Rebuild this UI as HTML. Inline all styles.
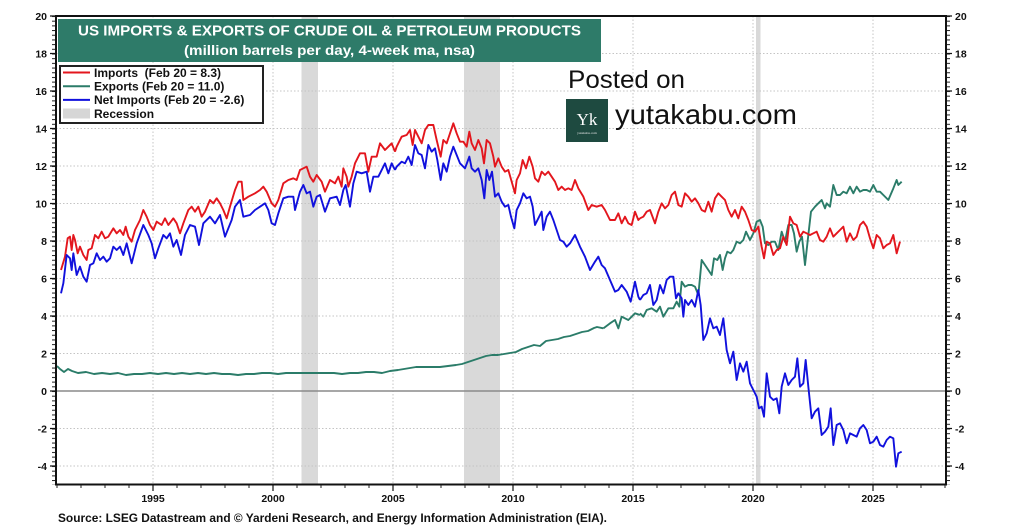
<!DOCTYPE html>
<html><head><meta charset="utf-8"><style>
html,body{margin:0;padding:0;background:#fff;}
svg{display:block;font-family:"Liberation Sans",Arial,sans-serif;}
</style></head><body>
<svg width="1024" height="527" viewBox="0 0 1024 527" xmlns="http://www.w3.org/2000/svg">
<defs>
<pattern id="ytick" x="0" y="16" width="10" height="4.6875" patternUnits="userSpaceOnUse"><rect x="0" y="0" width="10" height="1" fill="#222"/></pattern>
<pattern id="xtick" x="8.5" y="0" width="24" height="10" patternUnits="userSpaceOnUse"><rect x="0" y="0" width="1" height="10" fill="#222"/></pattern>
</defs>
<rect width="1024" height="527" fill="#fff"/>
<!-- recession bands -->
<g fill="#d9d9d9">
<rect x="301.5" y="16" width="16.5" height="469"/>
<rect x="464" y="16" width="36" height="469"/>
<rect x="756" y="16" width="4.5" height="469"/>
</g>
<!-- gridlines -->
<g stroke="#c4c4c4" stroke-width="1" stroke-dasharray="1.5,2" fill="none">
<line x1="56" y1="53.5" x2="946" y2="53.5"/>
<line x1="56" y1="91" x2="946" y2="91"/>
<line x1="56" y1="128.5" x2="946" y2="128.5"/>
<line x1="56" y1="166" x2="946" y2="166"/>
<line x1="56" y1="203.5" x2="946" y2="203.5"/>
<line x1="56" y1="241" x2="946" y2="241"/>
<line x1="56" y1="278.5" x2="946" y2="278.5"/>
<line x1="56" y1="316" x2="946" y2="316"/>
<line x1="56" y1="353.5" x2="946" y2="353.5"/>
<line x1="56" y1="428.5" x2="946" y2="428.5"/>
<line x1="56" y1="466" x2="946" y2="466"/>
<line x1="153" y1="16" x2="153" y2="484"/>
<line x1="273" y1="16" x2="273" y2="484"/>
<line x1="393" y1="16" x2="393" y2="484"/>
<line x1="513" y1="16" x2="513" y2="484"/>
<line x1="633" y1="16" x2="633" y2="484"/>
<line x1="753" y1="16" x2="753" y2="484"/>
<line x1="873" y1="16" x2="873" y2="484"/>
</g>
<line x1="56" y1="391" x2="946" y2="391" stroke="#8a8a8a" stroke-width="1.5"/>

<!-- series: exports (green) -->
<g fill="none" stroke="#2b7c69" stroke-width="1.9" stroke-linejoin="round">
<polyline points="57,366 60,369 64,372 68,369 72,371 78,373 86,372 94,374 102,373 110,374 118,373 126,375 134,374 142,374 150,373 158,374 166,373 174,374 182,373 190,374 198,373 206,374 214,373 222,374 230,374 238,375 246,374 254,374 262,373 270,373 278,374 286,373 294,373 302,373 310,373 318,373 326,373 334,373 342,374 350,373 358,373 366,372 374,372 382,373 390,371 398,370 404,369 410,368 416,367 424,367 432,367 440,367 448,366 456,365 462,364 468,362 474,360 480,358 486,356 492,355 498,355 504,354 510,353 516,352 522,349 528,347 534,345 540,346 546,341 552,340 558,339 564,337 570,336 576,334 582,332 588,331 594,328 597,327 603.3,328.3"/>
<g transform="translate(380,110) scale(0.33333)"><polyline vector-effect="non-scaling-stroke" points="670,655 690,640 705,630 715,655 725,620 745,630 765,610 780,615"/></g>
<g transform="translate(640,170) scale(0.33333)"><polyline vector-effect="non-scaling-stroke" points="0,430 10,440 20,420 35,415 50,425 60,410 70,440 85,415 100,415 110,395 118,410 125,335 135,350 145,345 155,345 165,350 175,375 185,270 195,285 205,300 215,315 222,265 232,270 240,255 248,300 255,265 262,245 272,250 280,240 290,215 300,220 310,210 318,185 330,210 340,190 350,155 360,150 368,170 375,220 385,225 395,215 405,215 415,240 425,185 435,215 445,165 455,165 462,190 470,245 478,215 486,200 495,285 505,195 513,125 525,110 535,100 545,90 555,115 560,100 570,110 580,45 590,75 600,75 610,65 620,70 630,50 640,70 650,50 660,65 670,60 680,60 690,65 700,45 710,65 720,65 730,75 745,90 760,55 770,30 775,45 785,35"/></g>
</g>

<!-- series: imports (red) -->
<g fill="none" stroke="#e3161d" stroke-width="1.9" stroke-linejoin="round">
<g transform="translate(55,110) scale(0.33333)"><polyline vector-effect="non-scaling-stroke" points="18,480 30,440 38,385 45,380 50,420 55,375 60,390 68,430 75,410 85,435 95,450 100,420 110,415 120,375 130,385 140,365 150,385 160,380 175,355 185,370 195,360 205,375 212,350 220,380 230,395 240,360 255,330 265,300 275,320 285,345 295,360 305,335 320,345 330,325 340,345 355,325 365,340 375,370 385,340 400,300 410,290 420,305 430,290 440,320 450,305 465,270 475,280 485,265 495,280 505,300 515,325 525,290 540,240 550,215 560,215 565,270 580,260 600,250 615,240 625,230 635,245 650,280 660,290 670,270 685,220 700,210 715,205 725,210 735,180 745,175 755,170 765,200 775,215 785,195 800,215 810,245 825,210 840,220 850,200 860,230 865,175 875,200 880,230 890,200 900,160 915,130 930,130 940,185 950,140 965,140 975,100 990,120 1000,110 1010,100 1020,125"/></g>
<g transform="translate(380,110) scale(0.33333)"><polyline vector-effect="non-scaling-stroke" points="45,125 50,110 65,80 80,75 90,60 98,105 105,60 115,80 125,100 135,60 145,45 160,45 170,90 182,140 190,90 200,100 210,70 220,40 230,70 240,95 250,95 260,110 268,65 275,100 285,120 295,90 305,115 312,160 320,90 330,100 340,140 345,170 355,145 365,170 375,185 385,180 395,215 405,250 410,210 420,190 428,150 438,175 448,140 458,170 465,205 475,215 485,185 495,195 505,185 515,200 525,215 535,240 545,230 555,240 565,235 575,240 585,210 595,235 610,260 625,300 635,285 650,290 665,285 675,300 690,330 705,330 715,310 725,340 735,320 745,340 755,345 765,305 775,330 780,325"/></g>
<g transform="translate(640,170) scale(0.33333)"><polyline vector-effect="non-scaling-stroke" points="0,145 10,140 20,125 30,120 45,160 55,125 65,100 75,115 85,105 95,75 105,65 115,105 125,110 135,70 145,80 155,95 165,85 175,100 185,120 195,125 205,95 215,125 225,85 235,70 245,80 255,90 265,120 275,140 285,120 295,145 305,110 315,125 325,150 335,180 345,185 355,170 365,230 372,265 380,215 390,220 400,255 410,240 420,235 430,200 440,225 450,140 460,160 470,165 480,200 490,185 500,190 510,195 520,190 530,185 540,210 550,215 560,200 570,175 580,200 590,190 600,180 610,170 620,215 630,190 640,210 650,200 660,165 670,155 680,170 690,205 700,235 710,195 720,205 730,235 740,225 750,220 760,195 770,250 780,215"/></g>
</g>

<!-- series: net imports (blue) -->
<g fill="none" stroke="#1111dd" stroke-width="1.9" stroke-linejoin="round">
<g transform="translate(55,110) scale(0.33333)"><polyline vector-effect="non-scaling-stroke" points="18,550 25,520 35,435 45,445 50,480 55,430 65,495 75,470 85,500 95,515 105,465 115,460 125,430 135,450 145,440 155,455 165,445 175,410 185,420 195,410 205,435 215,400 230,460 245,400 265,345 280,375 290,400 300,445 310,415 325,375 335,385 345,370 355,410 365,390 378,435 390,375 405,345 420,350 432,405 445,340 465,320 480,340 495,315 510,380 520,355 530,330 540,290 555,270 565,320 585,315 600,300 615,290 630,280 640,300 650,340 660,345 670,310 685,265 700,260 715,260 720,300 735,245 745,225 755,250 765,245 775,290 785,260 795,255 810,305 825,265 845,260 855,285 865,240 872,225 885,290 895,220 905,185 920,190 935,185 945,245 955,200 970,200 990,160 1000,190 1010,160 1020,180"/></g>
<g transform="translate(380,110) scale(0.33333)"><polyline vector-effect="non-scaling-stroke" points="45,180 50,170 65,155 75,160 85,140 95,165 105,105 115,130 125,135 135,175 145,105 155,125 165,115 172,150 182,210 190,160 200,185 210,140 220,110 230,135 240,160 255,175 268,140 275,175 285,185 295,175 305,210 313,265 320,180 328,210 336,185 345,260 355,250 365,275 375,290 385,285 393,320 403,355 410,300 420,280 430,250 440,265 450,260 458,290 465,345 475,325 485,305 490,360 500,320 510,305 520,330 530,360 540,390 550,395 560,410 570,400 585,375 600,410 615,440 630,480 645,455 655,440 665,465 675,475 690,510 705,545 715,540 725,525 740,545 752,575 765,515 775,560 780,570"/></g>
<g transform="translate(640,170) scale(0.33333)"><polyline vector-effect="non-scaling-stroke" points="0,390 10,375 20,370 30,345 40,405 50,390 60,345 70,370 80,330 90,320 100,320 108,385 115,370 125,385 130,440 135,390 145,405 155,390 165,410 175,360 182,405 190,510 200,490 210,445 220,475 230,470 240,495 250,445 260,540 270,580 280,545 290,630 300,580 310,605 320,575 330,640 340,660 350,680 357,715 365,710 372,740 380,610 390,680 400,690 410,685 418,730 425,650 435,610 445,645 455,630 465,620 472,565 480,650 490,640 497,570 505,650 515,745 525,725 535,715 545,795 555,785 565,770 572,715 580,825 590,765 600,760 610,780 620,820 630,790 640,795 650,800 660,775 670,765 680,780 690,820 700,815 710,800 720,825 730,830 740,810 750,800 760,805 768,890 775,850 785,845"/></g>
</g>

<!-- frame -->
<rect x="56" y="16" width="890" height="468.5" fill="none" stroke="#111" stroke-width="2"/>
<!-- ticks -->
<rect x="52" y="16" width="3" height="469" fill="url(#ytick)"/>
<rect x="947" y="16" width="3" height="469" fill="url(#ytick)"/>
<rect x="56" y="485" width="890" height="3" fill="url(#xtick)"/>
<g stroke="#111" stroke-width="1.2">
<path d="M50,16H56M50,53.5H56M50,91H56M50,128.5H56M50,166H56M50,203.5H56M50,241H56M50,278.5H56M50,316H56M50,353.5H56M50,391H56M50,428.5H56M50,466H56"/>
<path d="M946,16H952M946,53.5H952M946,91H952M946,128.5H952M946,166H952M946,203.5H952M946,241H952M946,278.5H952M946,316H952M946,353.5H952M946,391H952M946,428.5H952M946,466H952"/>
<path d="M153,484V491M273,484V491M393,484V491M513,484V491M633,484V491M753,484V491M873,484V491"/>
</g>

<!-- axis labels -->
<g font-size="10.5" font-weight="bold" fill="#111" text-anchor="end">
<text x="47" y="20">20</text><text x="47" y="57.5">18</text><text x="47" y="95">16</text><text x="47" y="132.5">14</text><text x="47" y="170">12</text><text x="47" y="207.5">10</text><text x="47" y="245">8</text><text x="47" y="282.5">6</text><text x="47" y="320">4</text><text x="47" y="357.5">2</text><text x="47" y="395">0</text><text x="47" y="432.5">-2</text><text x="47" y="470">-4</text>
</g>
<g font-size="10.5" font-weight="bold" fill="#111" text-anchor="start">
<text x="955" y="20">20</text><text x="955" y="57.5">18</text><text x="955" y="95">16</text><text x="955" y="132.5">14</text><text x="955" y="170">12</text><text x="955" y="207.5">10</text><text x="955" y="245">8</text><text x="955" y="282.5">6</text><text x="955" y="320">4</text><text x="955" y="357.5">2</text><text x="955" y="395">0</text><text x="955" y="432.5">-2</text><text x="955" y="470">-4</text>
</g>
<g font-size="10.5" font-weight="bold" fill="#111" text-anchor="middle">
<text x="153" y="502">1995</text><text x="273" y="502">2000</text><text x="393" y="502">2005</text><text x="513" y="502">2010</text><text x="633" y="502">2015</text><text x="753" y="502">2020</text><text x="873" y="502">2025</text>
</g>

<!-- title box -->
<rect x="58" y="19" width="543" height="43" fill="#2e7b69"/>
<text x="329.5" y="35.7" font-size="15" font-weight="bold" fill="#fff" text-anchor="middle" textLength="503" lengthAdjust="spacingAndGlyphs">US IMPORTS &amp; EXPORTS OF CRUDE OIL &amp; PETROLEUM PRODUCTS</text>
<text x="329.5" y="55" font-size="14" font-weight="bold" fill="#fff" text-anchor="middle" textLength="291" lengthAdjust="spacingAndGlyphs">(million barrels per day, 4-week ma, nsa)</text>

<!-- legend -->
<rect x="60" y="66" width="203" height="57" fill="#fff" stroke="#222" stroke-width="2"/>
<line x1="63" y1="72.5" x2="90" y2="72.5" stroke="#e3161d" stroke-width="2"/>
<line x1="63" y1="86.2" x2="90" y2="86.2" stroke="#2b7c69" stroke-width="2"/>
<line x1="63" y1="99.9" x2="90" y2="99.9" stroke="#1111dd" stroke-width="2"/>
<rect x="63" y="108.5" width="27" height="10" fill="#d6d6d6"/>
<g font-size="12" font-weight="bold" fill="#111">
<text x="94" y="76.8">Imports&#160; (Feb 20 = 8.3)</text>
<text x="94" y="90.5">Exports (Feb 20 = 11.0)</text>
<text x="94" y="104.2">Net Imports (Feb 20 = -2.6)</text>
<text x="94" y="117.9">Recession</text>
</g>

<!-- watermark -->
<text x="568" y="88" font-size="25" fill="#111" textLength="117" lengthAdjust="spacingAndGlyphs">Posted on</text>
<rect x="566" y="99" width="42" height="43" fill="#1e4a40"/>
<text x="587" y="125" font-size="17" fill="#fff" text-anchor="middle" font-family="Liberation Serif, serif">Yk</text>
<text x="587" y="134" font-size="3.5" fill="#e8e8e8" text-anchor="middle" font-family="Liberation Serif, serif">yutakabu.com</text>
<text x="615" y="124" font-size="28" fill="#111" textLength="182" lengthAdjust="spacingAndGlyphs">yutakabu.com</text>

<!-- source -->
<text x="58" y="522" font-size="11.5" font-weight="bold" fill="#111" textLength="549" lengthAdjust="spacingAndGlyphs">Source: LSEG Datastream and © Yardeni Research, and Energy Information Administration (EIA).</text>
</svg>
</body></html>
